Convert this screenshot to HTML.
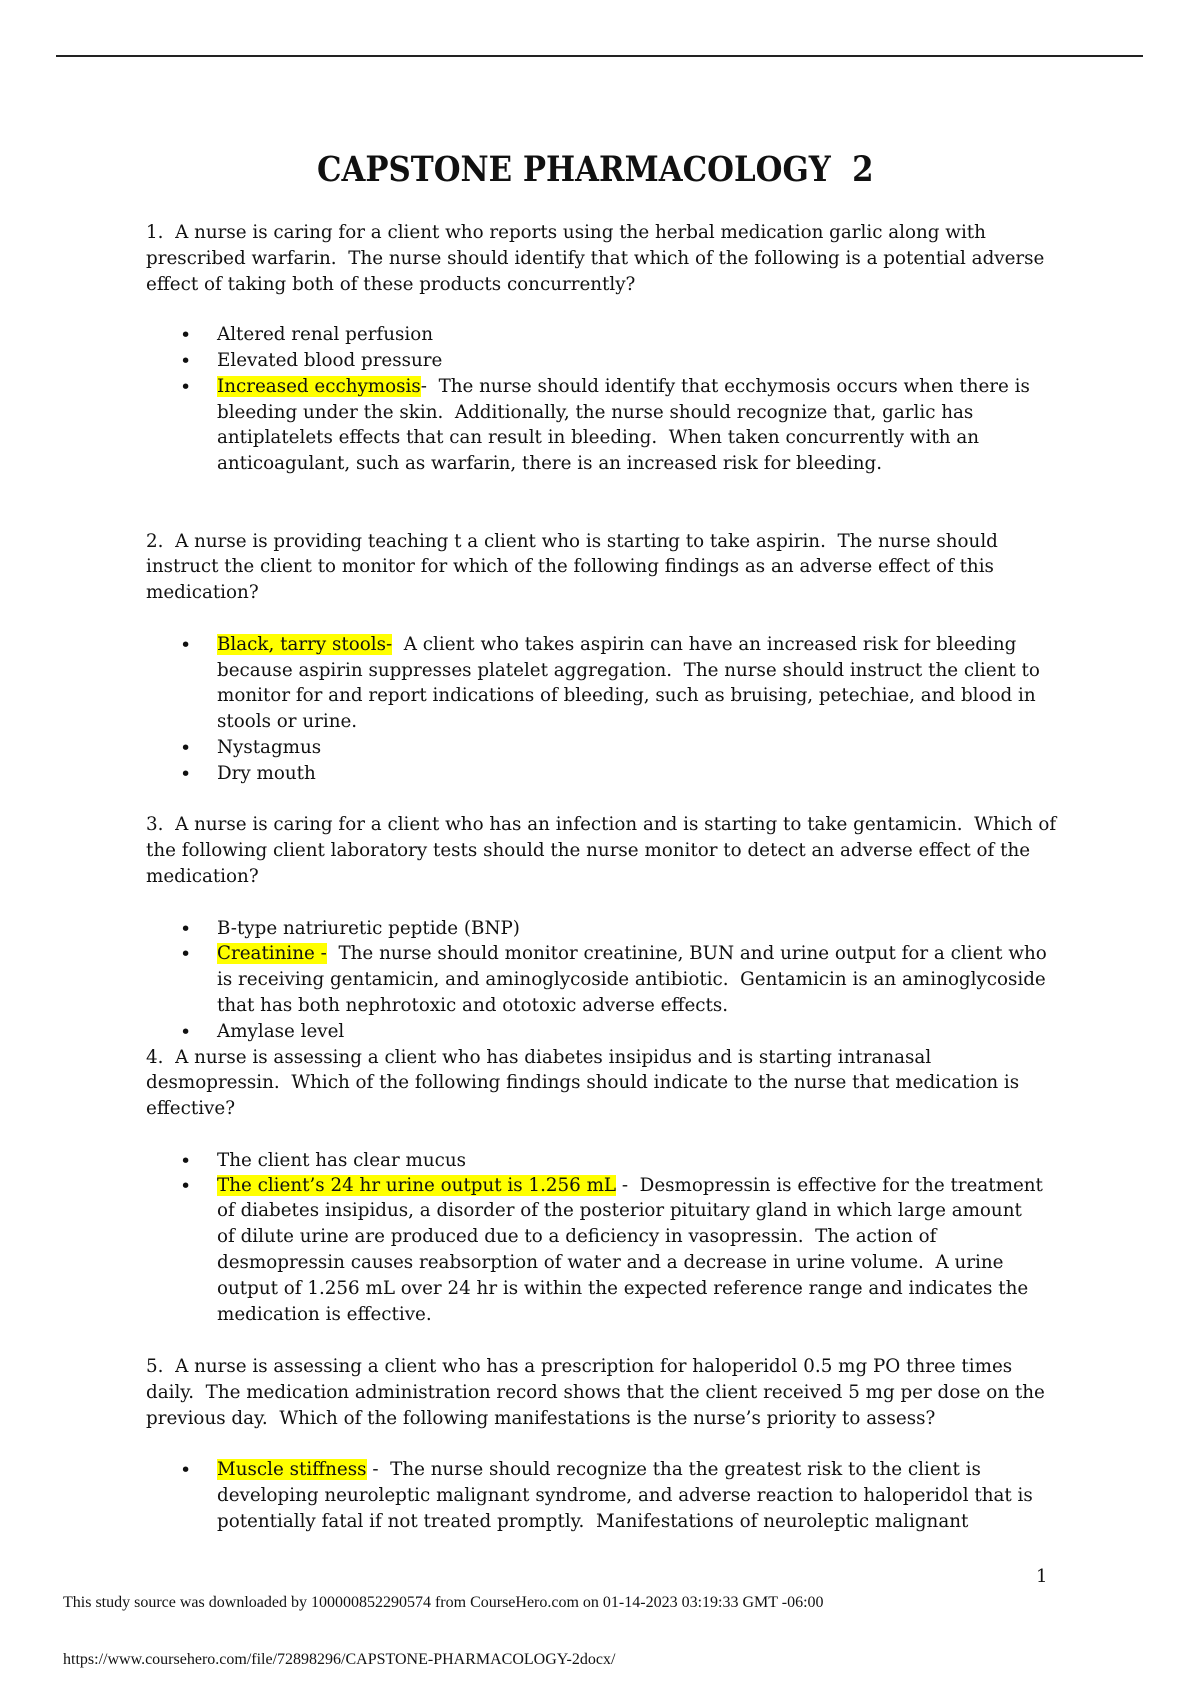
<!DOCTYPE html>
<html><head><meta charset="utf-8"><style>
body{margin:0;width:1190px;height:1684px;background:#fff;position:relative;overflow:hidden;font-family:"DejaVu Serif","Liberation Serif",serif;color:#111}
.l{position:absolute;left:146px;white-space:nowrap;font-size:18.3px;line-height:26px}
.b{left:217px}
.d{position:absolute;left:180px;font-size:19px;line-height:26px}
.h{background:#ffff00}
</style></head><body>
<div style="position:absolute;left:56px;top:55px;width:1087px;height:1.5px;background:#222"></div>
<div style="position:absolute;left:0;width:1190px;top:146px;text-align:center;line-height:48px"><span style="display:inline-block;font-size:35px;font-weight:bold;transform:scaleX(0.88)">CAPSTONE PHARMACOLOGY&nbsp; 2</span></div>

<div class="l" style="top:220px">1.&nbsp; A nurse is caring for a client who reports using the herbal medication garlic along with</div>
<div class="l" style="top:246px">prescribed warfarin.&nbsp; The nurse should identify that which of the following is a potential adverse</div>
<div class="l" style="top:272px">effect of taking both of these products concurrently?</div>
<div class="d" style="top:322px">•</div><div class="l b" style="top:322px">Altered renal perfusion</div>
<div class="d" style="top:348px">•</div><div class="l b" style="top:348px">Elevated blood pressure</div>
<div class="d" style="top:374px">•</div><div class="l b" style="top:374px"><span class="h">Increased ecchymosis</span>-&nbsp; The nurse should identify that ecchymosis occurs when there is</div>
<div class="l b" style="top:400px">bleeding under the skin.&nbsp; Additionally, the nurse should recognize that, garlic has</div>
<div class="l b" style="top:425px">antiplatelets effects that can result in bleeding.&nbsp; When taken concurrently with an</div>
<div class="l b" style="top:451px">anticoagulant, such as warfarin, there is an increased risk for bleeding.</div>

<div class="l" style="top:529px">2.&nbsp; A nurse is providing teaching t a client who is starting to take aspirin.&nbsp; The nurse should</div>
<div class="l" style="top:554px">instruct the client to monitor for which of the following findings as an adverse effect of this</div>
<div class="l" style="top:580px">medication?</div>
<div class="d" style="top:632px">•</div><div class="l b" style="top:632px"><span class="h">Black, tarry stools-</span>&nbsp; A client who takes aspirin can have an increased risk for bleeding</div>
<div class="l b" style="top:658px">because aspirin suppresses platelet aggregation.&nbsp; The nurse should instruct the client to</div>
<div class="l b" style="top:683px">monitor for and report indications of bleeding, such as bruising, petechiae, and blood in</div>
<div class="l b" style="top:709px">stools or urine.</div>
<div class="d" style="top:735px">•</div><div class="l b" style="top:735px">Nystagmus</div>
<div class="d" style="top:761px">•</div><div class="l b" style="top:761px">Dry mouth</div>

<div class="l" style="top:812px">3.&nbsp; A nurse is caring for a client who has an infection and is starting to take gentamicin.&nbsp; Which of</div>
<div class="l" style="top:838px">the following client laboratory tests should the nurse monitor to detect an adverse effect of the</div>
<div class="l" style="top:864px">medication?</div>
<div class="d" style="top:916px">•</div><div class="l b" style="top:916px">B-type natriuretic peptide (BNP)</div>
<div class="d" style="top:941px">•</div><div class="l b" style="top:941px"><span class="h">Creatinine -</span>&nbsp; The nurse should monitor creatinine, BUN and urine output for a client who</div>
<div class="l b" style="top:967px">is receiving gentamicin, and aminoglycoside antibiotic.&nbsp; Gentamicin is an aminoglycoside</div>
<div class="l b" style="top:993px">that has both nephrotoxic and ototoxic adverse effects.</div>
<div class="d" style="top:1019px">•</div><div class="l b" style="top:1019px">Amylase level</div>
<div class="l" style="top:1045px">4.&nbsp; A nurse is assessing a client who has diabetes insipidus and is starting intranasal</div>
<div class="l" style="top:1070px">desmopressin.&nbsp; Which of the following findings should indicate to the nurse that medication is</div>
<div class="l" style="top:1096px">effective?</div>
<div class="d" style="top:1148px">•</div><div class="l b" style="top:1148px">The client has clear mucus</div>
<div class="d" style="top:1173px">•</div><div class="l b" style="top:1173px"><span class="h">The client’s 24 hr urine output is 1.256 mL</span> -&nbsp; Desmopressin is effective for the treatment</div>
<div class="l b" style="top:1198px">of diabetes insipidus, a disorder of the posterior pituitary gland in which large amount</div>
<div class="l b" style="top:1224px">of dilute urine are produced due to a deficiency in vasopressin.&nbsp; The action of</div>
<div class="l b" style="top:1250px">desmopressin causes reabsorption of water and a decrease in urine volume.&nbsp; A urine</div>
<div class="l b" style="top:1276px">output of 1.256 mL over 24 hr is within the expected reference range and indicates the</div>
<div class="l b" style="top:1302px">medication is effective.</div>

<div class="l" style="top:1354px">5.&nbsp; A nurse is assessing a client who has a prescription for haloperidol 0.5 mg PO three times</div>
<div class="l" style="top:1380px">daily.&nbsp; The medication administration record shows that the client received 5 mg per dose on the</div>
<div class="l" style="top:1406px">previous day.&nbsp; Which of the following manifestations is the nurse’s priority to assess?</div>
<div class="d" style="top:1457px">•</div><div class="l b" style="top:1457px"><span class="h">Muscle stiffness</span> -&nbsp; The nurse should recognize tha the greatest risk to the client is</div>
<div class="l b" style="top:1483px">developing neuroleptic malignant syndrome, and adverse reaction to haloperidol that is</div>
<div class="l b" style="top:1509px">potentially fatal if not treated promptly.&nbsp; Manifestations of neuroleptic malignant</div>

<div style="position:absolute;left:1036px;top:1564px;font-size:18px;line-height:26px">1</div>
<div style="position:absolute;left:63px;top:1594px;font-family:'Liberation Serif',serif;font-size:16px;line-height:18px;white-space:nowrap">This study source was downloaded by 100000852290574 from CourseHero.com on 01-14-2023 03:19:33 GMT -06:00</div>
<div style="position:absolute;left:63px;top:1651px;font-family:'Liberation Serif',serif;font-size:16px;line-height:18px;white-space:nowrap">https://www.coursehero.com/file/72898296/CAPSTONE-PHARMACOLOGY-2docx/</div>
</body></html>
